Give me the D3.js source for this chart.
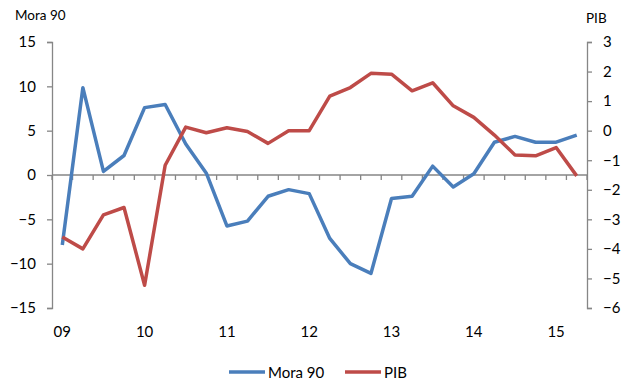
<!DOCTYPE html>
<html>
<head>
<meta charset="utf-8">
<script src="https://cdn.jsdelivr.net/npm/d3@7"></script>
<style>
body { margin: 0; background: #fff; }
text { font-family: Lato, "Liberation Sans", sans-serif; fill: #000; }
</style>
</head>
<body>
<svg width="621" height="381"></svg>
<script>
let width = 621, height = 381;

// quarters 09Q1 .. 15Q2
let yearLabels = ["09", "10", "11", "12", "13", "14", "15"];
let mora90 = [-7.9, 9.85, 0.4, 2.2, 7.6, 7.95, 3.5, 0.2, -5.75, -5.2, -2.4, -1.65, -2.1, -7.15, -10, -11.1, -2.65, -2.4, 1.0, -1.35, 0.15, 3.7, 4.35, 3.7, 3.7, 4.5];
let pib = [-3.6, -4.0, -2.85, -2.6, -5.23, -1.17, 0.12, -0.07, 0.1, -0.03, -0.43, 0, 0, 1.17, 1.46, 1.94, 1.91, 1.35, 1.62, 0.84, 0.45, -0.15, -0.82, -0.85, -0.57, -1.53];
let leftTicks = [-15, -10, -5, 0, 5, 10, 15];
let rightTicks = [-6, -5, -4, -3, -2, -1, 0, 1, 2, 3];

let svg = d3.select("svg");

let x0 = 52, x1 = 587, yTop = 42, yBot = 308;
let axisColor = "#868686";

let x = d3.scaleBand()
    .domain(d3.range(mora90.length))
    .range([x0, x1]);

let yL = d3.scaleLinear().domain([-15, 15]).range([yBot, yTop]);
let yR = d3.scaleLinear().domain([-6, 3]).range([yBot, yTop]);

// left axis
let gl = svg.append("g").attr("transform", "translate(" + x0 + ",0)")
    .call(d3.axisLeft(yL).tickValues(leftTicks).tickSize(5).tickPadding(11).tickFormat(d3.format("d")));
gl.select(".domain").attr("stroke", axisColor).attr("stroke-width", 1.3);
gl.selectAll(".tick line").attr("stroke", axisColor).attr("stroke-width", 1.3);
gl.selectAll(".tick text").style("font-size", "15px").attr("fill", "#000");

// right axis
let gr = svg.append("g").attr("transform", "translate(" + x1 + ",0)")
    .call(d3.axisRight(yR).tickValues(rightTicks).tickSize(5).tickPadding(11).tickFormat(d3.format("d")));
gr.select(".domain").attr("stroke", axisColor).attr("stroke-width", 1.3);
gr.selectAll(".tick line").attr("stroke", axisColor).attr("stroke-width", 1.3);
gr.selectAll(".tick text").style("font-size", "15px").attr("fill", "#000");

// x axis at zero of left axis
let y0 = yL(0);
svg.append("line")
    .attr("x1", x0).attr("x2", x1)
    .attr("y1", y0).attr("y2", y0)
    .attr("stroke", axisColor).attr("stroke-width", 1.3);

svg.append("g").selectAll("line")
    .data(d3.range(mora90.length + 1))
    .enter()
    .append("line")
    .attr("x1", d => x0 + d * x.step())
    .attr("x2", d => x0 + d * x.step())
    .attr("y1", y0).attr("y2", y0 + 5)
    .attr("stroke", axisColor).attr("stroke-width", 1.3);

svg.append("g").selectAll("text")
    .data(yearLabels)
    .enter()
    .append("text")
    .attr("x", (d, i) => x(i * 4) + x.bandwidth() / 2)
    .attr("y", 337)
    .attr("text-anchor", "middle")
    .style("font-size", "15px")
    .text(d => d);

// axis titles
svg.append("text").attr("x", 15).attr("y", 20).style("font-size", "13.5px").text("Mora 90");
svg.append("text").attr("x", 586).attr("y", 23).style("font-size", "13.5px").text("PIB");

// lines
let lineL = d3.line().x((d, i) => x(i) + x.bandwidth() / 2).y(d => yL(d));
let lineR = d3.line().x((d, i) => x(i) + x.bandwidth() / 2).y(d => yR(d));

svg.append("path").datum(mora90)
    .attr("fill", "none").attr("stroke", "#4a7ebb").attr("stroke-width", 3.5)
    .attr("stroke-linejoin", "round")
    .attr("d", lineL);

svg.append("path").datum(pib)
    .attr("fill", "none").attr("stroke", "#be4b48").attr("stroke-width", 3.5)
    .attr("stroke-linejoin", "round")
    .attr("d", lineR);

// legend
let legend = [{name: "Mora 90", color: "#4a7ebb", x: 229}, {name: "PIB", color: "#be4b48", x: 345}];
let lg = svg.append("g").selectAll("g").data(legend).enter().append("g");
lg.append("line")
    .attr("x1", d => d.x).attr("x2", d => d.x + 36)
    .attr("y1", 372).attr("y2", 372)
    .attr("stroke", d => d.color).attr("stroke-width", 3.5);
lg.append("text")
    .attr("x", d => d.x + 39).attr("y", 377.5)
    .style("font-size", "15px")
    .text(d => d.name);
</script>
</body>
</html>
